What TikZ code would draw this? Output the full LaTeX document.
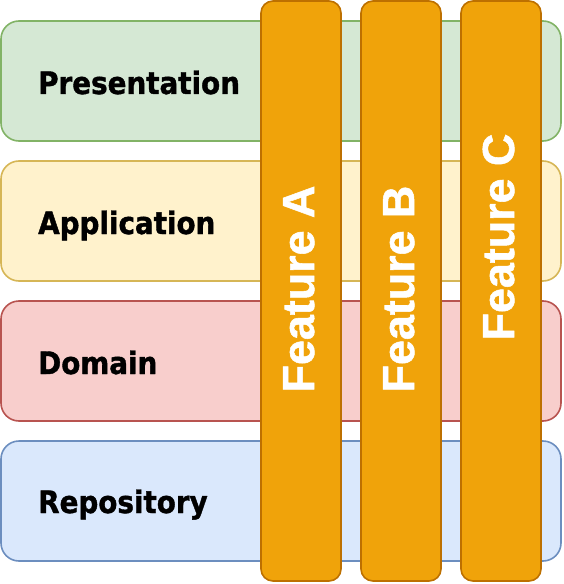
\documentclass[tikz,border=0pt]{standalone}
\usepackage{fontspec}
\newfontfamily\layerfont{DejaVu Sans Condensed Bold}[FakeBold=1.2]
\newfontfamily\featfont{Liberation Sans Bold}[FakeBold=1.2]
\definecolor{gfill}{HTML}{D5E8D4}\definecolor{gline}{HTML}{82B366}
\definecolor{yfill}{HTML}{FFF2CC}\definecolor{yline}{HTML}{D6B656}
\definecolor{rfill}{HTML}{F8CECC}\definecolor{rline}{HTML}{B85450}
\definecolor{bfill}{HTML}{DAE8FC}\definecolor{bline}{HTML}{6C8EBF}
\definecolor{ofill}{HTML}{F0A30A}\definecolor{oline}{HTML}{BD7000}
\begin{document}
\begin{tikzpicture}[x=1bp,y=-1bp,
  layer/.style={draw=#1line,fill=#1fill,line width=1.6bp,rounded corners=18bp},
  feat/.style={draw=oline,fill=ofill,line width=1.6bp,rounded corners=12bp},
  layertext/.style={anchor=base west,inner sep=0pt,font=\layerfont\fontsize{31}{31}\selectfont,text=black},
  feattext/.style={anchor=base,rotate=90,inner sep=0pt,font=\featfont\fontsize{45}{45}\selectfont,text=white}]
\useasboundingbox (0,0) rectangle (564,584);
\draw[layer=g] (1,21) rectangle (561,141);
\draw[layer=y] (1,161) rectangle (561,281);
\draw[layer=r] (1,301) rectangle (561,421);
\draw[layer=b] (1,441) rectangle (561,561);
\node[layertext] (pres) at (38,94) {Presentation};
\node[layertext] (app) at (38,234) {Application};
\node[layertext] (dom) at (38,374) {Domain};
\node[layertext] (repo) at (38,513) {Repository};
\draw[feat] (261,1) rectangle (341,581);
\draw[feat] (361,1) rectangle (441,581);
\draw[feat] (461,1) rectangle (541,581);
\node[feattext] (fa) at (314,289) {Feature A};
\node[feattext] (fb) at (414,289) {Feature B};
\node[feattext] (fc) at (514,237) {Feature C};
\end{tikzpicture}
\end{document}
